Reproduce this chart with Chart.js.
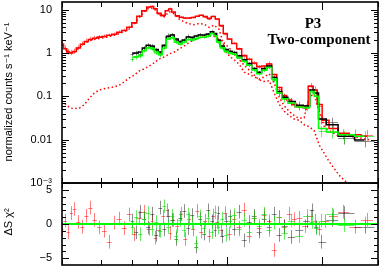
<!DOCTYPE html>
<html>
<head>
<meta charset="utf-8">
<script src="https://cdn.jsdelivr.net/npm/chart.js@4.4.1/dist/chart.umd.min.js"></script>
<style>
  html, body { margin: 0; padding: 0; background: #fff; }
  #wrap { position: relative; width: 382px; height: 266px; overflow: hidden; }
  canvas { position: absolute; left: 0; }
</style>
</head>
<body>
<div id="wrap">
  <canvas id="spec" width="382" height="186" style="top:0"></canvas>
  <canvas id="resid" width="382" height="86" style="top:180px"></canvas>
</div>
<script>
// energies (keV) and counts for the pn spectrum (red)
const redE = [0.300,0.307,0.314,0.321,0.328,0.338,0.348,0.358,0.369,0.380,
  0.394,0.408,0.423,0.439,0.455,0.472,0.490,0.508,0.527,0.546,
  0.566,0.579,0.591,0.609,0.627,0.646,0.660,0.675,0.695,0.715,
  0.737,0.758,0.781,0.804,0.827,0.852,0.877,0.903,0.930,0.957,
  0.986,1.015,1.052,1.091,1.132,1.174,1.217,1.262,1.309,1.358,
  1.408,1.461,1.515,1.571,1.629,1.690,1.765,1.844,1.899,1.955,
  2.04,2.16,2.33,2.54,2.77];
const redCts = [1.70,1.30,1.08,1.03,1.11,1.37,1.65,1.94,2.15,2.27,
  2.40,2.46,2.60,2.75,3.10,3.40,4.00,4.90,7.30,9.20,
  11.5,12.0,10.8,7.90,7.10,9.70,10.8,8.80,7.10,6.70,
  6.40,6.40,6.70,7.10,7.50,6.70,6.00,7.10,6.00,4.20,
  2.70,2.10,1.70,1.24,0.85,0.73,0.59,0.48,0.48,0.59,
  0.30,0.15,0.10,0.079,0.064,0.057,0.054,0.18,0.15,0.060,
  0.025,0.019,0.0137,0.0137,0.013];
const redErr = [0.16,0.15,0.15,0.14,0.14,0.13,0.12,0.11,0.10,0.10,
  0.09,0.09,0.08,0.08,0.08,0.07,0.07,0.06,0.05,0.05,
  0.04,0.04,0.04,0.05,0.05,0.04,0.04,0.05,0.05,0.05,
  0.05,0.05,0.05,0.05,0.05,0.05,0.05,0.05,0.05,0.06,
  0.06,0.06,0.07,0.07,0.08,0.08,0.09,0.09,0.09,0.09,
  0.11,0.13,0.14,0.15,0.16,0.16,0.17,0.13,0.13,0.19,
  0.23,0.26,0.26,0.26,0.28];
const redMod = [1.60,1.25,1.05,1.00,1.08,1.30,1.60,1.85,2.05,2.20,
  2.30,2.40,2.55,2.70,3.00,3.30,3.90,5.00,7.00,9.40,
  11.5,11.8,10.5,8.20,7.40,9.40,10.3,8.80,7.20,6.70,
  6.40,6.40,6.60,7.00,7.40,6.90,6.30,6.90,6.10,4.30,
  2.80,2.10,1.65,1.25,0.88,0.72,0.59,0.49,0.50,0.56,
  0.32,0.16,0.105,0.082,0.066,0.058,0.056,0.17,0.14,0.065,
  0.028,0.018,0.014,0.013,0.012];
const redRes = [-0.8,0.5,-1.2,1.6,2.2,0.3,-0.4,1.2,2.4,0.6,
  -0.5,-1.0,-2.6,0.2,0.8,-0.6,1.4,-1.5,0.9,1.8,
  -0.7,0.4,-2.0,-0.9,1.1,2.0,-1.3,0.6,-0.3,1.5,
  -2.2,0.7,-0.8,1.9,-1.1,0.5,-1.7,1.2,0.3,-0.9,
  1.6,-1.4,0.8,-0.5,2.1,-1.8,0.9,-0.6,1.3,0.4,
  -3.8,1.0,-0.4,1.5,0.7,0.9,-0.3,1.1,0.5,-0.7,
  0.4,1.2,1.8,-0.4,0.6];

// MOS spectra (black, green)
const mosE = [0.501,0.515,0.531,0.546,0.562,0.579,0.596,0.614,0.632,0.651,
  0.670,0.690,0.710,0.731,0.753,0.775,0.798,0.821,0.846,0.871,
  0.897,0.916,0.936,0.964,0.993,1.022,1.052,1.091,1.132,1.174,
  1.217,1.262,1.309,1.358,1.408,1.461,1.515,1.596,1.690,1.792,
  1.858,1.911,1.98,2.14,2.35,2.72];
const blkCts = [0.95,1.00,0.95,1.30,1.52,1.45,1.17,1.00,1.45,2.60,
  2.70,2.00,1.80,2.00,2.46,2.20,2.46,2.70,2.60,2.70,
  3.20,2.70,1.90,1.37,1.17,1.11,1.05,0.85,0.69,0.56,
  0.43,0.35,0.45,0.53,0.25,0.12,0.097,0.079,0.064,0.064,
  0.15,0.12,0.030,0.025,0.011,0.0095];
const blkErr = [0.12,0.12,0.12,0.10,0.10,0.10,0.10,0.10,0.09,0.08,
  0.08,0.08,0.08,0.08,0.08,0.08,0.07,0.07,0.07,0.07,
  0.07,0.07,0.08,0.08,0.08,0.08,0.08,0.08,0.09,0.09,
  0.10,0.10,0.10,0.10,0.12,0.15,0.15,0.16,0.18,0.18,
  0.14,0.16,0.25,0.28,0.30,0.30];
const blkMod = [0.98,1.00,1.05,1.30,1.50,1.45,1.20,1.05,1.50,2.40,
  2.60,2.10,1.85,2.00,2.35,2.30,2.45,2.60,2.60,2.75,
  3.10,2.80,2.00,1.45,1.20,1.10,1.02,0.86,0.70,0.57,
  0.44,0.36,0.43,0.50,0.27,0.13,0.095,0.076,0.062,0.060,
  0.14,0.12,0.030,0.022,0.012,0.0098];
const blkRes = [0.5,-1.2,1.8,0.8,-0.5,1.5,-1.6,2.4,-0.8,1.2,
  0.6,-2.2,0.9,1.9,-0.6,1.3,-3.3,0.7,-1.4,2.0,
  0.4,-0.9,1.6,-1.8,0.5,1.1,-0.7,1.8,-2.4,0.3,
  1.2,-1.1,0.8,-0.4,1.5,-1.6,-0.3,-1.9,-0.9,0.4,
  2.0,-0.5,-2.6,0.6,1.6,-0.4];
const grnCts = [0.72,0.80,0.85,1.15,1.35,1.25,1.00,0.88,1.30,2.20,
  2.30,1.75,1.60,1.80,2.10,2.00,2.15,2.30,2.30,2.45,
  2.90,2.50,1.75,1.30,1.05,1.00,0.95,0.78,0.64,0.52,
  0.41,0.34,0.40,0.47,0.24,0.12,0.085,0.070,0.058,0.055,
  0.13,0.10,0.016,0.015,0.012,0.012];
const grnErr = [0.13,0.12,0.12,0.11,0.10,0.10,0.10,0.10,0.09,0.08,
  0.08,0.08,0.08,0.08,0.08,0.08,0.07,0.07,0.07,0.07,
  0.07,0.07,0.08,0.08,0.08,0.08,0.09,0.09,0.09,0.10,
  0.10,0.10,0.10,0.11,0.12,0.15,0.16,0.17,0.18,0.18,
  0.15,0.17,0.28,0.30,0.30,0.30];
const grnMod = [0.80,0.82,0.88,1.12,1.32,1.28,1.05,0.92,1.30,2.10,
  2.25,1.80,1.62,1.78,2.05,2.00,2.15,2.30,2.30,2.45,
  2.80,2.50,1.80,1.32,1.10,1.00,0.93,0.79,0.64,0.52,
  0.41,0.33,0.40,0.46,0.25,0.12,0.088,0.070,0.057,0.055,
  0.13,0.10,0.018,0.015,0.013,0.012];
const grnRes = [-0.5,1.0,-1.5,0.8,1.6,-0.7,0.3,-1.0,2.6,-0.4,
  1.2,-1.8,0.6,-0.9,1.4,0.2,-2.8,1.1,-0.6,0.9,
  -1.2,1.7,-0.5,0.8,-1.6,0.4,1.3,-0.8,0.6,-1.1,
  0.9,-0.3,1.5,-0.9,0.2,1.0,-1.3,0.5,-1.8,1.2,
  0.3,-0.6,0.5,1.4,-0.2,0.1];

// the two model components of the pn fit (dotted red)
const compE = [0.300,0.309,0.318,0.328,0.341,0.353,0.366,0.380,0.394,0.408,
  0.423,0.439,0.455,0.472,0.490,0.508,0.527,0.546,0.566,0.587,
  0.609,0.632,0.655,0.680,0.705,0.731,0.758,0.786,0.815,0.846,
  0.877,0.910,0.943,0.978,1.015,1.052,1.091,1.132,1.174,1.217,
  1.262,1.309,1.358,1.408,1.461,1.515,1.571,1.629,1.690,1.752,
  1.818,1.885,1.955,2.028,2.103,2.262,2.432,2.616,2.813];
const compA = [1.55,1.20,1.00,1.02,1.35,1.65,1.90,2.05,2.15,2.25,
  2.40,2.55,2.80,3.10,3.60,4.6,6.6,9.0,11.0,10.6,
  7.5,6.8,9.0,8.0,6.0,5.2,4.7,4.5,4.8,4.6,
  3.9,4.4,3.5,1.4,0.85,0.70,0.55,0.36,0.32,0.28,
  0.25,0.28,0.33,0.20,0.095,0.060,0.045,0.036,0.031,0.032,
  0.10,0.11,0.045,0.020,0.016,0.012,0.012,0.011,0.010];
const compB = [0.079,0.064,0.054,0.052,0.054,0.064,0.090,0.12,0.14,0.15,
  0.157,0.165,0.18,0.215,0.266,0.31,0.385,0.43,0.50,0.59,
  0.73,0.81,0.95,1.05,1.24,1.45,1.75,2.0,2.2,2.4,
  2.5,2.4,2.1,1.7,1.3,0.95,0.70,0.52,0.40,0.31,
  0.24,0.22,0.23,0.12,0.065,0.045,0.036,0.030,0.028,0.022,
  0.020,0.016,0.0075,0.0048,0.0031,0.0015,0.0009,0.0005,0.0003];

// axis ticks
const xTickVals = [0.3, 0.4, 0.5, 0.6, 0.7, 0.8, 0.9, 1, 2, 3];
const specTicks = [0.001, 0.01, 0.1, 1, 10];
const specTickLabels = ['10\u207B\u00B3', '0.01', '0.1', '1', '10'];
const resTicks = [-5, 0, 5];
const resTickLabels = ['\u22125', '0', '5'];

const pts = (xs, ys) => xs.map((v, i) => ({ x: v, y: ys[i] }));
const ones = n => new Array(n).fill(1);

// error crosses: horizontal bar spans the bin, vertical bar is the error
const crosses = {
  id: 'crosses',
  beforeDatasetsDraw(chart) {
    const { ctx, chartArea: a, scales: { x, y } } = chart;
    ctx.save();
    ctx.beginPath();
    ctx.rect(a.left, a.top, a.right - a.left, a.bottom - a.top);
    ctx.clip();
    ctx.lineWidth = 1;
    chart.data.datasets.forEach(ds => {
      if (!ds.errs) return;
      ctx.strokeStyle = ds.barColor;
      const E = ds.data.map(p => p.x);
      const n = E.length;
      ctx.beginPath();
      ds.data.forEach((p, i) => {
        const lo = i > 0 ? Math.sqrt(E[i - 1] * E[i]) : E[0] * E[0] / Math.sqrt(E[0] * E[1]);
        const hi = i < n - 1 ? Math.sqrt(E[i] * E[i + 1]) : E[i] * E[i] / Math.sqrt(E[i - 1] * E[i]);
        const e = ds.errs[i];
        const y0 = ds.rel ? p.y * (1 - e) : p.y - e;
        const y1 = ds.rel ? p.y * (1 + e) : p.y + e;
        const px = Math.round(x.getPixelForValue(p.x)) + 0.5;
        const py = Math.round(y.getPixelForValue(p.y)) + 0.5;
        ctx.moveTo(x.getPixelForValue(lo), py);
        ctx.lineTo(x.getPixelForValue(hi), py);
        ctx.moveTo(px, y.getPixelForValue(y0));
        ctx.lineTo(px, y.getPixelForValue(y1));
      });
      ctx.stroke();
    });
    ctx.restore();
  }
};

// box around the panel with inward ticks on all four sides
const frameTicks = {
  id: 'frameTicks',
  afterDatasetsDraw(chart) {
    const { ctx, chartArea: a, scales: { x, y } } = chart;
    ctx.save();
    ctx.strokeStyle = '#000';
    ctx.lineWidth = 1;
    ctx.beginPath();
    xTickVals.forEach(v => {
      const px = Math.round(x.getPixelForValue(v)) + 0.5;
      const len = (v === 1 || v === 2) ? 8 : 5;
      ctx.moveTo(px, a.top); ctx.lineTo(px, a.top + len);
      ctx.moveTo(px, a.bottom); ctx.lineTo(px, a.bottom - len);
    });
    const yt = [];
    if (y.type === 'logarithmic') {
      for (let n = -3; n <= 1; n++) {
        for (let k = 1; k <= 9; k++) {
          const v = k * Math.pow(10, n);
          if (v <= y.max) yt.push([v, k === 1]);
        }
      }
    } else {
      for (let v = -5; v <= 5; v++) yt.push([v, v % 5 === 0]);
    }
    yt.forEach(([v, major]) => {
      const py = Math.round(y.getPixelForValue(v)) + 0.5;
      const len = major ? 7 : 4;
      ctx.moveTo(a.left, py); ctx.lineTo(a.left + len, py);
      ctx.moveTo(a.right, py); ctx.lineTo(a.right - len, py);
    });
    ctx.stroke();
    ctx.lineWidth = 1.6;
    ctx.strokeRect(a.left, a.top, a.right - a.left, a.bottom - a.top);
    ctx.restore();
  }
};

const labels = {
  id: 'labels',
  afterDraw(chart, args, o) {
    const ctx = chart.ctx;
    ctx.save();
    ctx.fillStyle = '#000';
    ctx.textAlign = 'center';
    ctx.font = '11px "Liberation Sans", "DejaVu Sans", sans-serif';
    ctx.translate(12, o.titleY);
    ctx.rotate(-Math.PI / 2);
    ctx.fillText(o.title, 0, 0);
    ctx.restore();
    if (o.notes) {
      ctx.save();
      ctx.fillStyle = '#000';
      ctx.textAlign = 'center';
      ctx.font = 'bold 15px "Liberation Serif", serif';
      o.notes.forEach(([t, nx, ny]) => ctx.fillText(t, nx, ny));
      ctx.restore();
    }
  }
};

const tickFont = { family: '"Liberation Sans", "DejaVu Sans", sans-serif', size: 11 };
const xScale = { type: 'logarithmic', min: 0.3, max: 3, display: false };
// fixed axis width and no extra room for the end labels, so both panels line up
const fixY = s => { s.width = 62; s.paddingTop = 0; s.paddingBottom = 0; };
const yAxis = (type, min, max, vals, names) => ({
  type, min, max,
  afterFit: fixY,
  afterBuildTicks: s => { s.ticks = vals.map(v => ({ value: v })); },
  grid: { display: false, drawTicks: false },
  border: { display: false },
  ticks: {
    autoSkip: false,
    padding: 10,
    color: '#000',
    font: tickFont,
    callback: (v, i) => names[i]
  }
});

new Chart(document.getElementById('spec').getContext('2d'), {
  type: 'line',
  data: {
    datasets: [
      { label: 'pn', data: pts(redE, redCts), errs: redErr, rel: true, barColor: 'rgba(255,0,0,0.5)', showLine: false, pointRadius: 0, order: 9 },
      { label: 'MOS1', data: pts(mosE, blkCts), errs: blkErr, rel: true, barColor: 'rgba(0,0,0,0.45)', showLine: false, pointRadius: 0, order: 9 },
      { label: 'MOS2', data: pts(mosE, grnCts), errs: grnErr, rel: true, barColor: 'rgba(0,220,0,0.6)', showLine: false, pointRadius: 0, order: 9 },
      { label: 'comp A', data: pts(compE, compA), borderColor: '#ff0000', borderWidth: 1.5, borderDash: [1.5, 2.5], pointRadius: 0, order: 5 },
      { label: 'comp B', data: pts(compE, compB), borderColor: '#ff0000', borderWidth: 1.5, borderDash: [1.5, 2.5], pointRadius: 0, order: 5 },
      { label: 'pn model', data: pts(redE, redMod), borderColor: '#ff0000', borderWidth: 1.5, stepped: 'middle', pointRadius: 0, order: 3 },
      { label: 'MOS1 model', data: pts(mosE, blkMod), borderColor: '#000000', borderWidth: 1.5, stepped: 'middle', pointRadius: 0, order: 2 },
      { label: 'MOS2 model', data: pts(mosE, grnMod), borderColor: '#00ff00', borderWidth: 1.5, stepped: 'middle', pointRadius: 0, order: 1 }
    ]
  },
  options: {
    responsive: false,
    animation: false,
    layout: { padding: { left: 0, right: 4, top: 2, bottom: 3 } },
    plugins: {
      legend: { display: false },
      tooltip: { enabled: false },
      labels: {
        title: 'normalized counts s\u207B\u00B9 keV\u207B\u00B9',
        titleY: 92,
        notes: [['P3', 313, 28], ['Two-component', 319, 44]]
      }
    },
    scales: {
      x: xScale,
      y: yAxis('logarithmic', 0.001, 15, specTicks, specTickLabels)
    }
  },
  plugins: [crosses, frameTicks, labels]
});

new Chart(document.getElementById('resid').getContext('2d'), {
  type: 'line',
  data: {
    datasets: [
      { label: 'pn', data: pts(redE, redRes), errs: ones(redE.length), barColor: 'rgba(255,0,0,0.5)', showLine: false, pointRadius: 0, order: 9 },
      { label: 'MOS1', data: pts(mosE, blkRes), errs: ones(mosE.length), barColor: 'rgba(0,0,0,0.45)', showLine: false, pointRadius: 0, order: 9 },
      { label: 'MOS2', data: pts(mosE, grnRes), errs: ones(mosE.length), barColor: 'rgba(0,220,0,0.6)', showLine: false, pointRadius: 0, order: 9 },
      { label: 'zero', data: [{ x: 0.3, y: 0 }, { x: 3, y: 0 }], borderColor: '#00ff00', borderWidth: 2, pointRadius: 0, order: 1 }
    ]
  },
  options: {
    responsive: false,
    animation: false,
    layout: { padding: { left: 0, right: 4, top: 3, bottom: 1 } },
    plugins: {
      legend: { display: false },
      tooltip: { enabled: false },
      labels: { title: '\u0394S \u03C7\u00B2', titleY: 42 }
    },
    scales: {
      x: xScale,
      y: yAxis('linear', -6, 6, resTicks, resTickLabels)
    }
  },
  plugins: [crosses, frameTicks, labels]
});
</script>
</body>
</html>
